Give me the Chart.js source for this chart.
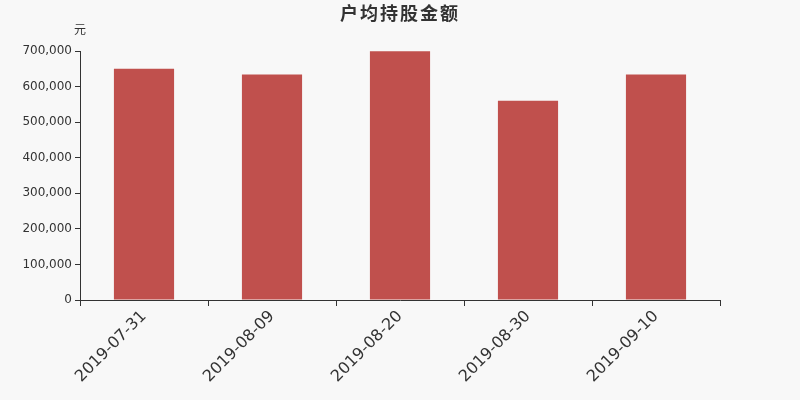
<!DOCTYPE html>
<html>
<head>
<meta charset="utf-8">
<script src="https://cdn.jsdelivr.net/npm/chart.js@4/dist/chart.umd.min.js"></script>
<style>
html,body{margin:0;padding:0;background:#f8f8f8;}
#wrap{width:800px;height:400px;position:relative;}
</style>
</head>
<body>
<div id="wrap"><canvas id="c" width="800" height="400"></canvas></div>
<script>
const categories = ['2019-07-31','2019-08-09','2019-08-20','2019-08-30','2019-09-10'];
const values = [650000, 634000, 699000, 560000, 634000];
const yTicks = [0,100000,200000,300000,400000,500000,600000,700000];
const titleText = '户均持股金额';
const unitText = '元';

const bg = {
  id:'bg',
  beforeDraw(chart){
    const ctx = chart.ctx;
    ctx.save();
    ctx.fillStyle = '#f8f8f8';
    ctx.fillRect(0,0,chart.width,chart.height);
    ctx.restore();
  },
  afterDraw(chart){
    const ctx = chart.ctx;
    ctx.save();
    ctx.fillStyle = '#333';
    ctx.textAlign = 'center';
    ctx.textBaseline = 'middle';
    ctx.font = 'bold 18px "Noto Sans CJK SC", sans-serif';
    if ('letterSpacing' in ctx) ctx.letterSpacing = '2px';
    ctx.fillText(titleText, 400, 13);
    if ('letterSpacing' in ctx) ctx.letterSpacing = '0px';
    ctx.font = '12px "Noto Sans CJK SC", sans-serif';
    ctx.fillText(unitText, 80, 29);
    ctx.restore();
  }
};

new Chart(document.getElementById('c'), {
  type:'bar',
  data:{
    labels: categories,
    datasets:[{
      data: values,
      backgroundColor:'#c0504d',
      categoryPercentage:1,
      barPercentage:0.47
    }]
  },
  options:{
    responsive:false,
    animation:false,
    devicePixelRatio:1,
    layout:{padding:{top:51,right:80,left:0,bottom:0}},
    plugins:{legend:{display:false},title:{display:false},tooltip:{enabled:false}},
    scales:{
      x:{
        grid:{display:true,drawOnChartArea:false,drawTicks:true,tickLength:6,color:'#333',offset:true},
        border:{display:true,color:'#333'},
        ticks:{color:'#333',font:{size:16,family:'"DejaVu Sans", sans-serif'},minRotation:45,maxRotation:45,padding:1},
        afterFit(s){ s.height = 100; }
      },
      y:{
        min:0,max:700000,
        afterBuildTicks(s){ s.ticks = yTicks.map(v=>({value:v})); },
        grid:{display:true,drawOnChartArea:false,drawTicks:true,tickLength:5,color:'#333'},
        border:{display:true,color:'#333'},
        ticks:{color:'#333',font:{size:12,family:'"DejaVu Sans", sans-serif'},padding:3,
          callback:v=>v.toLocaleString('en-US')},
        afterFit(s){ s.width = 80; }
      }
    }
  },
  plugins:[bg]
});
</script>
</body>
</html>
